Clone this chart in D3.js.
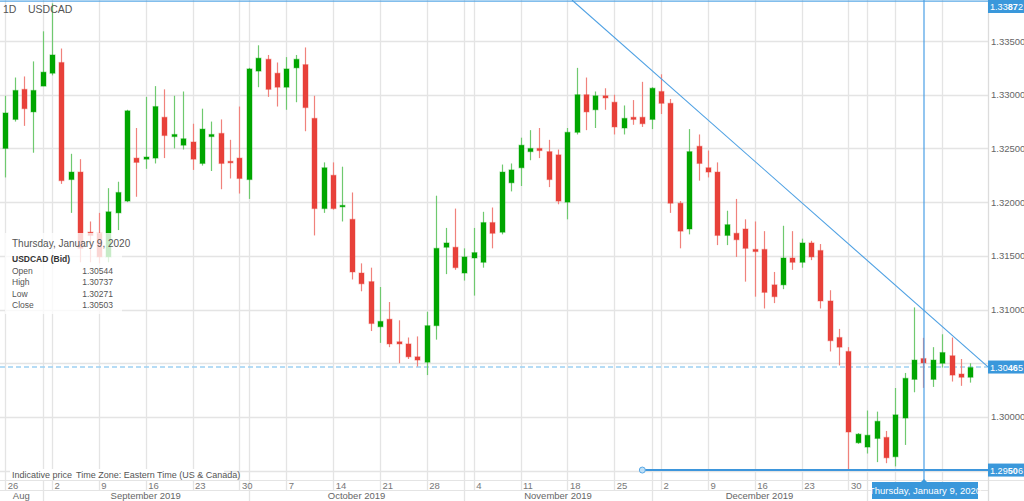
<!DOCTYPE html>
<html><head><meta charset="utf-8">
<script src="https://cdn.jsdelivr.net/npm/d3@7"></script>
<style>html,body{margin:0;padding:0;background:#fff;overflow:hidden}svg{display:block;font-family:Arial,"Liberation Sans",sans-serif}</style>
</head><body><svg id="c" width="1024" height="501"></svg>
<script>
const dates = ["2019-08-23",
"2019-08-26","2019-08-27","2019-08-28","2019-08-29","2019-08-30",
"2019-09-02","2019-09-03","2019-09-04","2019-09-05","2019-09-06",
"2019-09-09","2019-09-10","2019-09-11","2019-09-12","2019-09-13",
"2019-09-16","2019-09-17","2019-09-18","2019-09-19","2019-09-20",
"2019-09-23","2019-09-24","2019-09-25","2019-09-26","2019-09-27",
"2019-09-30","2019-10-01","2019-10-02","2019-10-03","2019-10-04",
"2019-10-07","2019-10-08","2019-10-09","2019-10-10","2019-10-11",
"2019-10-14","2019-10-15","2019-10-16","2019-10-17","2019-10-18",
"2019-10-21","2019-10-22","2019-10-23","2019-10-24","2019-10-25",
"2019-10-28","2019-10-29","2019-10-30","2019-10-31","2019-11-01",
"2019-11-04","2019-11-05","2019-11-06","2019-11-07","2019-11-08",
"2019-11-11","2019-11-12","2019-11-13","2019-11-14","2019-11-15",
"2019-11-18","2019-11-19","2019-11-20","2019-11-21","2019-11-22",
"2019-11-25","2019-11-26","2019-11-27","2019-11-28","2019-11-29",
"2019-12-02","2019-12-03","2019-12-04","2019-12-05","2019-12-06",
"2019-12-09","2019-12-10","2019-12-11","2019-12-12","2019-12-13",
"2019-12-16","2019-12-17","2019-12-18","2019-12-19","2019-12-20",
"2019-12-23","2019-12-24","2019-12-25","2019-12-26","2019-12-27",
"2019-12-30","2019-12-31","2020-01-01","2020-01-02","2020-01-03",
"2020-01-06","2020-01-07","2020-01-08","2020-01-09","2020-01-10",
"2020-01-13","2020-01-14","2020-01-15","2020-01-16"];

const open = [1.3277,
1.3250,1.3277,1.3305,1.3284,1.3308,
1.3320,1.3330,1.3221,1.3228,1.3172,
1.3171,1.3149,1.3190,1.3201,1.3241,
1.3240,1.3241,1.3279,1.3261,1.3253,
1.3256,1.3236,1.3261,1.3264,1.3238,
1.3241,1.3221,1.3322,1.3333,1.3320,
1.3307,1.3325,1.3328,1.3278,1.3194,
1.3225,1.3196,1.3184,1.3134,1.3126,
1.3084,1.3091,1.3070,1.3068,1.3056,
1.3051,1.3085,1.3158,1.3158,1.3134,
1.3148,1.3144,1.3181,1.3172,1.3218,
1.3232,1.3247,1.3250,1.3247,1.3244,
1.3200,1.3265,1.3300,1.3286,1.3299,
1.3293,1.3269,1.3279,1.3279,1.3277,
1.3303,1.3292,1.3199,1.3175,1.3252,
1.3232,1.3228,1.3169,1.3171,1.3175,
1.3156,1.3156,1.3123,1.3123,1.3148,
1.3144,1.3162,1.3155,1.3108,1.3074,
1.3061,1.2976,1.2972,1.2980,1.2981,
1.2963,1.2999,1.3035,1.30544,1.3035,
1.3050,1.3057,1.3040,1.3037];

const high = [1.3286,
1.3299,1.3316,1.3317,1.3331,1.3359,
1.3385,1.3343,1.3245,1.3240,1.3182,
1.3190,1.3213,1.3219,1.3286,1.3269,
1.3298,1.3308,1.3305,1.3299,1.3303,
1.3273,1.3287,1.3275,1.3277,1.3258,
1.3289,1.3325,1.3346,1.3337,1.3330,
1.3335,1.3337,1.3344,1.3299,1.3237,
1.3237,1.3233,1.3209,1.3143,1.3139,
1.3121,1.3107,1.3090,1.3074,1.3075,
1.3098,1.3206,1.3176,1.3194,1.3157,
1.3176,1.3191,1.3195,1.3235,1.3236,
1.3260,1.3267,1.3269,1.3258,1.3249,
1.3269,1.3325,1.3316,1.3303,1.3306,
1.3300,1.3290,1.3295,1.3312,1.3307,
1.3319,1.3296,1.3201,1.3268,1.3263,
1.3248,1.3237,1.3192,1.3203,1.3184,
1.3182,1.3173,1.3135,1.3178,1.3173,
1.3166,1.3164,1.3161,1.3118,1.3082,
1.3065,1.2985,1.3006,1.3005,1.2987,
1.3027,1.3041,1.3102,1.30737,1.3065,
1.3077,1.3074,1.3054,1.3050];

const low = [1.3249,
1.3223,1.3275,1.3271,1.3246,1.3308,
1.3318,1.3217,1.3190,1.3144,1.3144,
1.3143,1.3144,1.3174,1.3200,1.3205,
1.3231,1.3236,1.3241,1.3250,1.3249,
1.3230,1.3234,1.3229,1.3212,1.3222,
1.3208,1.3203,1.3307,1.3298,1.3289,
1.3286,1.3293,1.3266,1.3169,1.3190,
1.3193,1.3182,1.3128,1.3117,1.3080,
1.3069,1.3065,1.3050,1.3054,1.3047,
1.3039,1.3072,1.3133,1.3137,1.3127,
1.3113,1.3139,1.3157,1.3170,1.3210,
1.3215,1.3239,1.3241,1.3214,1.3198,
1.3184,1.3263,1.3267,1.3269,1.3286,
1.3263,1.3263,1.3272,1.3270,1.3268,
1.3282,1.3190,1.3157,1.3170,1.3220,
1.3223,1.3160,1.3160,1.3149,1.3126,
1.3112,1.3101,1.3106,1.3119,1.3137,
1.3139,1.3146,1.3101,1.3061,1.3048,
1.29506,1.2975,1.2966,1.2958,1.2957,
1.2954,1.2974,1.3023,1.30271,1.3028,
1.3046,1.3033,1.3029,1.3032];

const close = [1.3251,
1.3283,1.3304,1.3287,1.3304,1.3321,
1.3337,1.3220,1.3228,1.3157,1.3169,
1.3149,1.3191,1.3209,1.3285,1.3237,
1.3242,1.3289,1.3262,1.3263,1.3259,
1.3240,1.3268,1.3263,1.3236,1.3237,
1.3222,1.3324,1.3334,1.3305,1.3307,
1.3324,1.3333,1.3288,1.3194,1.3232,
1.3194,1.3197,1.3135,1.3124,1.3087,
1.3089,1.3068,1.3068,1.3056,1.3053,
1.3085,1.3157,1.3162,1.3139,1.3149,
1.3153,1.3181,1.3171,1.3228,1.3230,
1.3253,1.3250,1.3248,1.3221,1.3201,
1.3265,1.3300,1.3284,1.3299,1.3297,
1.3270,1.3278,1.3277,1.3273,1.3306,
1.3292,1.3199,1.3173,1.3247,1.3236,
1.3228,1.3169,1.3179,1.3165,1.3157,
1.3154,1.3116,1.3112,1.3148,1.3144,
1.3162,1.3149,1.3108,1.3071,1.3065,
1.2986,1.2984,1.2983,1.2996,1.2962,
1.3002,1.3036,1.3053,1.30503,1.3053,
1.3060,1.3039,1.3037,1.3046];

const priceTicks = [1.295,1.300,1.305,1.310,1.315,1.320,1.325,1.330,1.335];
const weekTicks = ["2019-08-26","2019-09-02","2019-09-09","2019-09-16","2019-09-23","2019-09-30",
"2019-10-07","2019-10-14","2019-10-21","2019-10-28","2019-11-04","2019-11-11","2019-11-18",
"2019-11-25","2019-12-02","2019-12-09","2019-12-16","2019-12-23","2019-12-30","2020-01-06","2020-01-13"];
const weekLabels = ["26","2","9","16","23","30","7","14","21","28","4","11","18","25","2","9","16","23","30","6","13"];
const monthBounds = ["2019-08-30","2019-10-01","2019-11-01","2019-11-29","2020-01-01"];
const monthLabels = ["Aug","September 2019","October 2019","November 2019","December 2019","January 2020"];

const topLine = 1.33872, lastPrice = 1.30465, lowLine = 1.29506;
const lowLineStart = "2019-11-28";
const trendA = {date:"2019-12-02", price:1.3315};
const trendB = {date:"2020-01-14", price:1.30765};
const crossDate = "2020-01-09";
const symbol = "USDCAD", period = "1D";

const W = 1024, H = 501, plotR = 988, plotB = 480;
const svg = d3.select("#c");
const x = d3.scalePoint().domain(dates).range([-4.2, 970.3]);
const y = d3.scaleLinear().domain([1.295, 1.335]).range([470.7, 41]);
const grid = "#e4e4e4";
const boxPrices = [topLine, lastPrice, lowLine];
const crossX = Math.round(x(crossDate))+1;

// horizontal grid
svg.append("g").selectAll("line").data(priceTicks).join("line")
  .attr("x1",0).attr("x2",plotR).attr("y1",d=>Math.round(y(d))+0.5).attr("y2",d=>Math.round(y(d))+0.5)
  .attr("stroke",grid).attr("stroke-width",1.3);
// vertical grid
svg.append("g").selectAll("line").data(weekTicks).join("line")
  .attr("x1",d=>Math.round(x(d))+0.5).attr("x2",d=>Math.round(x(d))+0.5).attr("y1",0).attr("y2",490)
  .attr("stroke",grid).attr("stroke-width",1.3);
svg.append("g").selectAll("line").data(monthBounds).join("line")
  .attr("x1",d=>Math.round(x(d))+0.5).attr("x2",d=>Math.round(x(d))+0.5).attr("y1",0).attr("y2",H)
  .attr("stroke",grid).attr("stroke-width",1.3);

// axis rows
svg.append("line").attr("x1",0).attr("x2",W).attr("y1",480.5).attr("y2",480.5).attr("stroke",grid);
svg.append("line").attr("x1",0).attr("x2",plotR).attr("y1",490.5).attr("y2",490.5).attr("stroke",grid);
svg.append("line").attr("x1",plotR+0.5).attr("x2",plotR+0.5).attr("y1",0).attr("y2",H).attr("stroke","#dcdcdc").attr("stroke-width",1.3);

// week labels (those under the date box are hidden by it)
const boxL = 872, boxRr = 978;
svg.append("g").selectAll("text").data(weekTicks.filter(d=>x(d)+2.5 < boxL-8 || x(d) > boxRr)).join("text")
  .attr("x",d=>x(d)+2.5).attr("y",488.5).text(d=>weekLabels[weekTicks.indexOf(d)])
  .attr("font-size",9.5).attr("fill","#777");
// month labels
const mb = [0, ...monthBounds.map(d=>x(d)), plotR];
const mData = monthLabels.map((m,i)=>({m, cx:(mb[i]+mb[i+1])/2})).filter(d=>d.cx < boxL-40 || d.cx > boxRr+40);
svg.append("g").selectAll("text").data(mData).join("text")
  .attr("x",d=>d.cx).attr("y",498.5).attr("text-anchor","middle").text(d=>d.m)
  .attr("font-size",9.5).attr("fill","#666");

// right axis labels (skip those hidden under the price boxes)
svg.append("g").selectAll("text").data(priceTicks.filter(p=>boxPrices.every(b=>Math.abs(y(b)-y(p))>10))).join("text")
  .attr("x",991).attr("y",d=>y(d)+3.5).text(d=>d.toFixed(5))
  .attr("font-size",9.5).attr("fill","#666");

// current price dashed line
svg.append("line").attr("x1",0).attr("x2",plotR).attr("y1",y(lastPrice)).attr("y2",y(lastPrice))
  .attr("stroke","#9fd1f2").attr("stroke-width",1.6).attr("stroke-dasharray","5,3");

// candles
const idx = d3.range(dates.length);
const g = svg.append("g");
const up = i => close[i] >= open[i];
g.selectAll("line.w").data(idx).join("line")
  .attr("x1",i=>Math.round(x(dates[i]))+0.5).attr("x2",i=>Math.round(x(dates[i]))+0.5)
  .attr("y1",i=>y(high[i])).attr("y2",i=>y(low[i]))
  .attr("stroke",i=>up(i)?"#6fc96f":"#f0827c").attr("stroke-width",1.2);
g.selectAll("rect").data(idx).join("rect")
  .attr("x",i=>Math.round(x(dates[i]))-2)
  .attr("width",5)
  .attr("y",i=>y(Math.max(open[i],close[i])))
  .attr("height",i=>Math.max(1.5, Math.abs(y(open[i])-y(close[i]))))
  .attr("fill",i=>up(i)?"#00a600":"#e8413a")
  .attr("stroke",i=>up(i)?"rgba(0,166,0,0.35)":"rgba(232,65,58,0.35)")
  .attr("stroke-width",1.2);

// top horizontal line
svg.append("line").attr("x1",0).attr("x2",W).attr("y1",y(topLine)).attr("y2",y(topLine))
  .attr("stroke","#5aa9e6").attr("stroke-width",1.2);
// trend line extended
const ax = x(trendA.date), ay = y(trendA.price), bx = x(trendB.date), by = y(trendB.price);
const slope = (by-ay)/(bx-ax);
const x0 = ax - ay/slope;
svg.append("line").attr("x1",x0).attr("y1",0).attr("x2",plotR).attr("y2",ay+(plotR-ax)*slope)
  .attr("stroke","#4da0e3").attr("stroke-width",1.1);
// low line
svg.append("line").attr("x1",x(lowLineStart)).attr("x2",plotR).attr("y1",y(lowLine)).attr("y2",y(lowLine))
  .attr("stroke","#3d96dc").attr("stroke-width",2);
svg.append("circle").attr("cx",x(lowLineStart)).attr("cy",y(lowLine)).attr("r",3)
  .attr("fill","#bfe0f7").attr("stroke","#5aa9e6").attr("stroke-width",1);
// crosshair
svg.append("line").attr("x1",crossX).attr("x2",crossX).attr("y1",0).attr("y2",483)
  .attr("stroke","#4a9fe6").attr("stroke-width",1.2);

// price label boxes: one text, pips emphasised with bold tspan
function priceBox(p){
  const yy = Math.max(6.5, y(p));
  svg.append("rect").attr("x",plotR).attr("y",yy-6.5).attr("width",W-plotR).attr("height",13).attr("fill","#3a98db");
  const s = p.toFixed(5);
  const t = svg.append("text").attr("x",990).attr("y",yy+3.5).attr("fill","#fff").attr("font-size",9)
    .attr("textLength",33).attr("lengthAdjust","spacingAndGlyphs");
  t.append("tspan").text(s.slice(0,4));
  t.append("tspan").text(s.slice(4,6)).attr("font-weight","bold");
  t.append("tspan").text(s.slice(6));
}
boxPrices.forEach(priceBox);

// bottom date tooltip
const tb = svg.append("g");
tb.append("rect").attr("x",boxL).attr("y",482).attr("width",boxRr-boxL).attr("height",17).attr("fill","#3a98db");
tb.append("path").attr("d",`M${crossX-3},482 L${crossX},479 L${crossX+3},482 Z`).attr("fill","#3a98db");
tb.append("text").attr("x",(boxL+boxRr)/2).attr("y",494).attr("text-anchor","middle").attr("fill","#fff")
  .attr("font-size",9.5).text("Thursday, January 9, 2020");

// top-left legend
svg.append("text").attr("x",3).attr("y",13).attr("font-size",10.5).attr("fill","#555").text(period);
svg.append("text").attr("x",28).attr("y",13).attr("font-size",10.5).attr("fill","#555").text(symbol);

// data tooltip
const ci = dates.indexOf(crossDate);
const tt = svg.append("g");
tt.append("rect").attr("x",5).attr("y",233).attr("width",117).attr("height",81).attr("fill","rgba(255,255,255,0.78)");
tt.append("text").attr("x",12).attr("y",247).attr("font-size",10).attr("fill","#555").text("Thursday, January 9, 2020");
tt.append("text").attr("x",12).attr("y",262).attr("font-size",8.5).attr("font-weight","bold").attr("fill","#333").text(symbol+" (Bid)");
const rows = [["Open",open[ci]],["High",high[ci]],["Low",low[ci]],["Close",close[ci]]];
rows.forEach((r,i)=>{
  tt.append("text").attr("x",12).attr("y",274+i*11.3).attr("font-size",8.5).attr("fill","#555").text(r[0]);
  tt.append("text").attr("x",113).attr("y",274+i*11.3).attr("font-size",8.5).attr("fill","#555").attr("text-anchor","end").text(r[1].toFixed(5));
});

// bottom info text
svg.append("rect").attr("x",10).attr("y",469).attr("width",214).attr("height",11).attr("fill","#fff");
svg.append("text").attr("x",12).attr("y",477.5).attr("font-size",9).attr("fill","#555").text("Indicative price");
svg.append("text").attr("x",76).attr("y",477.5).attr("font-size",9).attr("fill","#555").text("Time Zone: Eastern Time (US & Canada)");
</script></body></html>
